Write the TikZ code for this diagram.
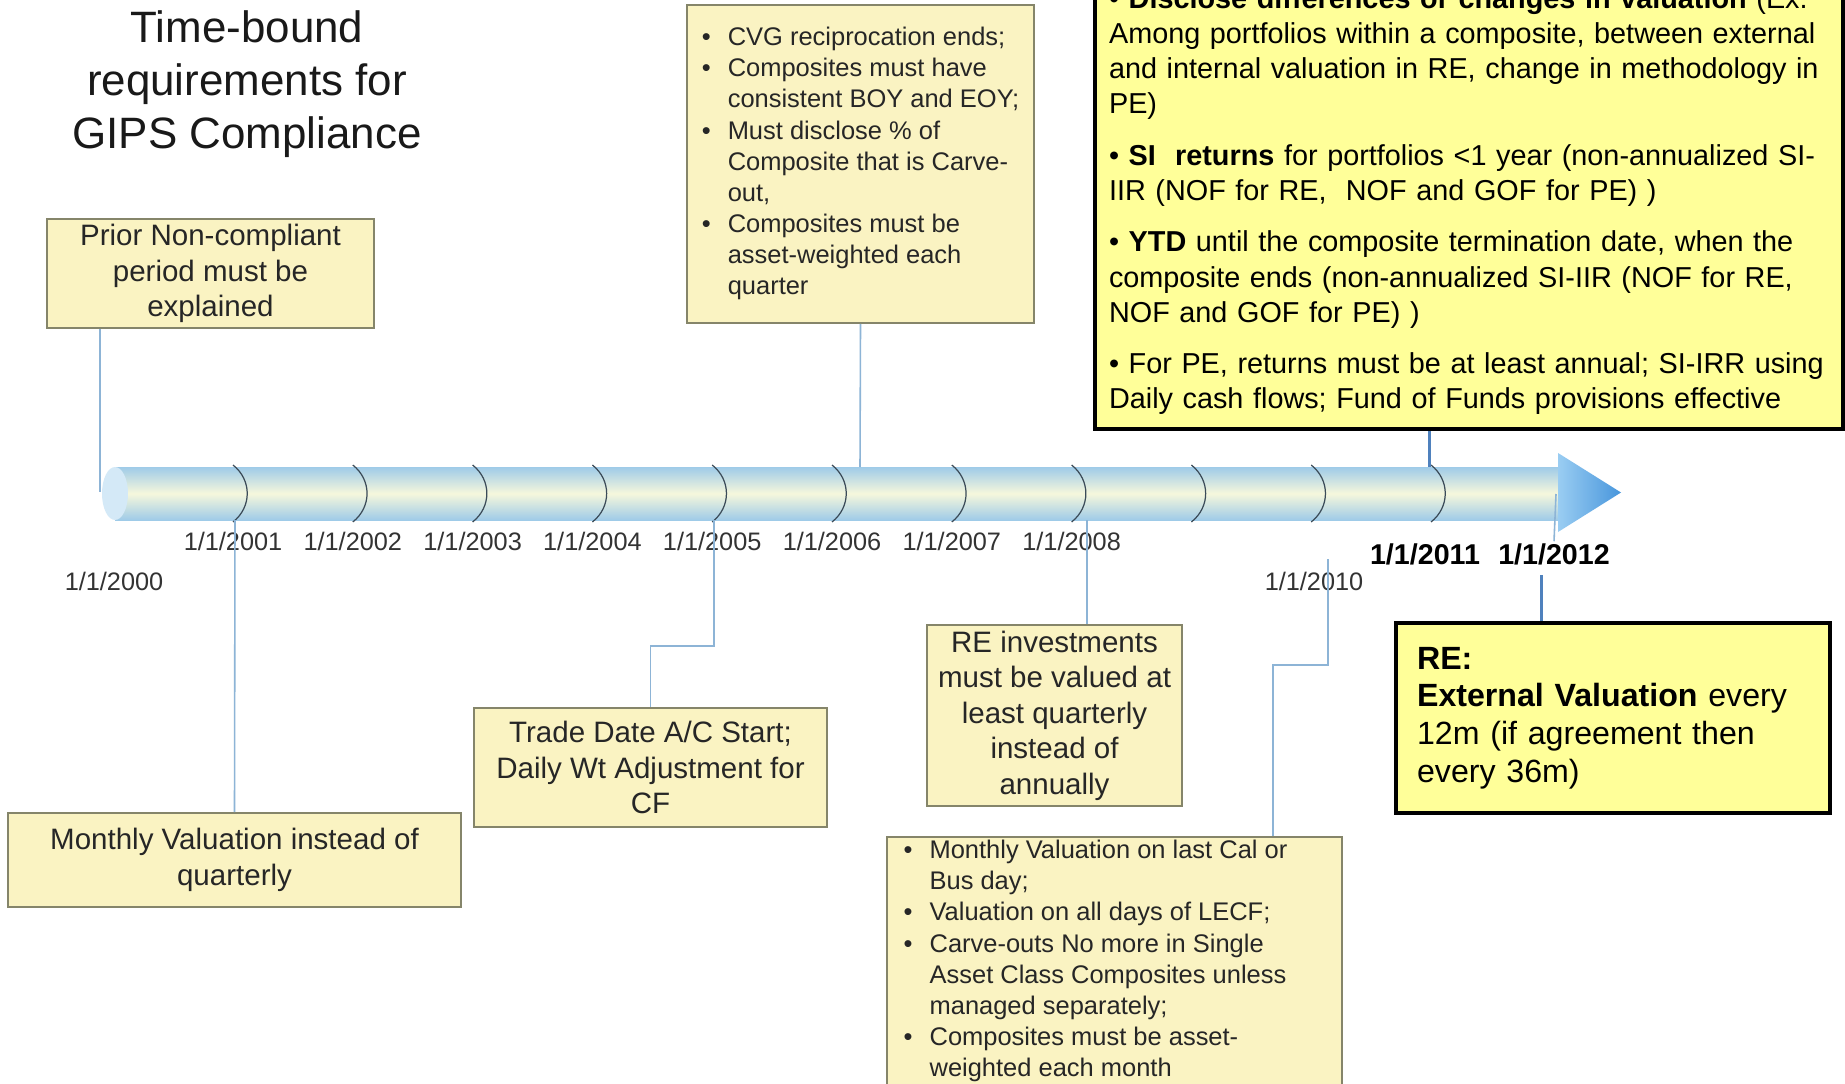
\documentclass[tikz,border=0pt]{standalone}
\usepackage{fontspec}
\setmainfont{Liberation Sans}
\usepackage{xcolor}
\usetikzlibrary{positioning, calc, arrows.meta}

\definecolor{palefill}{HTML}{FAF3C2}
\definecolor{paleedge}{HTML}{85856A}
\definecolor{notefill}{HTML}{FFFF99}
\definecolor{connblue}{HTML}{8DB4D6}
\definecolor{keyblue}{HTML}{4F81BD}
\definecolor{barblue}{HTML}{9FCBE8}
\definecolor{barpale}{HTML}{F6F7DC}
\definecolor{capblue}{HTML}{D4E9F7}
\definecolor{headlight}{HTML}{9ACDF2}
\definecolor{headdark}{HTML}{4896DC}
\definecolor{markgray}{HTML}{3B4B58}

\newcommand{\itembul}{\makebox[0.52cm][l]{\textbullet}}

\begin{document}
\begin{tikzpicture}[x=0.02cm, y=-0.02cm,
    palebox/.style={draw=paleedge, line width=1.1pt, fill=palefill, text=black!85,
      font=\fontsize{16.8}{20.2}\selectfont, align=center, inner sep=2pt},
    listbox/.style={draw=paleedge, line width=1.1pt, fill=palefill, text=black!85,
      font=\fontsize{14.5}{17.75}\selectfont, inner sep=0pt},
    notebox/.style={draw=black, line width=2.3pt, fill=notefill, align=left},
    datelbl/.style={text=black!80, font=\fontsize{14.4}{17}\selectfont, inner sep=1pt},
    keydate/.style={font=\fontsize{16.3}{19}\selectfont\bfseries, inner sep=1pt},
    yearmark/.style={draw=markgray, line width=0.7pt},
    conn/.style={draw=connblue, line width=0.9pt},
    keyconn/.style={draw=keyblue, line width=1.7pt}]
  \useasboundingbox (0,0) rectangle (1845,1084);
  \fill[white] (0,0) rectangle (1845,1084);

  % Timeline bar
  \shade[top color=barblue, bottom color=barblue, middle color=barpale] (115,467) rectangle (1560,520);
  \fill[capblue] (115,493.5) ellipse [x radius=0.26cm, y radius=0.53cm];
  \shade[left color=headlight, right color=headdark] (1558,453) -- (1621,492.5) -- (1558,532) -- cycle;
  \foreach \k in {0,...,10}
    \draw[yearmark] ({233+\k*119.8},465) .. controls ({252+\k*119.8},480) and ({252+\k*119.8},507) .. ({233+\k*119.8},522);

  \coordinate (t2000) at (100,492);
  \coordinate (b2001) at (235,520);
  \coordinate (b2005) at (714,520);
  \coordinate (t2006) at (860,467);
  \coordinate (b2008) at (1087,520);
  \coordinate (c2010) at (1328,559);
  \coordinate (t2011) at (1429,467);
  \coordinate (t2012) at (1556,494);
  \coordinate (c2012) at (1541,575);

  % Title
  \node[font=\fontsize{25}{30.3}\selectfont, align=center, text=black!90] (title) at (247,84)
    {Time-bound\\requirements for\\GIPS Compliance};

  % Dates
  \node[datelbl] (d2000) at (114,581) {1/1/2000};
  \foreach \yr [count=\k from 0] in {2001,...,2008}
    \node[datelbl] (d\yr) at ({233+\k*119.8},541) {1/1/\yr};
  \node[datelbl] (d2010) at (1314,581) {1/1/2010};
  \node[keydate] (d2011) at (1425,554) {1/1/2011};
  \node[keydate] (d2012) at (1554,554) {1/1/2012};

  % Requirements
  \node[palebox, minimum width=6.54cm, minimum height=2.18cm] (prior) at (210.5,273.5)
    {Prior Non-compliant\\period must be\\explained};
  \node[palebox, minimum width=9.06cm, minimum height=1.88cm] (monthly) at (234.5,860)
    {Monthly Valuation instead of\\quarterly};
  \node[palebox, minimum width=7.06cm, minimum height=2.38cm] (trade) at (650.5,767.5)
    {Trade Date A/C Start;\\Daily Wt Adjustment for\\CF};
  \node[palebox, minimum width=5.1cm, minimum height=3.62cm] (reinv) at (1054.5,715.5)
    {RE investments\\must be valued at\\least quarterly\\instead of\\annually};
  \node[listbox, minimum width=6.94cm, minimum height=6.36cm] (cvg) at (860.5,164) {%
    \begin{tabular}{@{}l@{}l@{}}
      \itembul & CVG reciprocation ends;\\
      \itembul & Composites must have\\
               & consistent BOY and EOY;\\
      \itembul & Must disclose \% of\\
               & Composite that is Carve-\\
               & out,\\
      \itembul & Composites must be\\
               & asset-weighted each\\
               & quarter
    \end{tabular}};
  \node[listbox, minimum width=9.1cm, minimum height=4.86cm] (lecf) at (1114.5,961.5) {%
    \begin{tabular}{@{}l@{}l@{\hspace{0.76cm}}}
      \itembul & Monthly Valuation on last Cal or\\
               & Bus day;\\
      \itembul & Valuation on all days of LECF;\\
      \itembul & Carve-outs No more in Single\\
               & Asset Class Composites unless\\
               & managed separately;\\
      \itembul & Composites must be asset-\\
               & weighted each month
    \end{tabular}};

  % 2011 / 2012 notes
  \node[notebox, anchor=south west, text width=14.4cm, inner xsep=0.28cm, inner ysep=0.28cm,
    font=\fontsize{16.4}{20}\selectfont] (disclose) at (1093,431)
    {\textbullet\ \textbf{Disclose differences or changes in valuation} (Ex.\\
     Among portfolios within a composite, between external\\
     and internal valuation in RE, change in methodology in\\
     PE)\\[0.33cm]
     \textbullet\ \textbf{SI\ \ returns} for portfolios <1 year (non-annualized SI-\\
     IIR (NOF for RE,\ \ NOF and GOF for PE) )\\[0.33cm]
     \textbullet\ \textbf{YTD} until the composite termination date, when the\\
     composite ends (non-annualized SI-IIR (NOF for RE,\\
     NOF and GOF for PE) )\\[0.33cm]
     \textbullet\ For PE, returns must be at least annual; SI-IRR using\\
     Daily cash flows; Fund of Funds provisions effective};
  \node[notebox, text width=7.84cm, inner xsep=0.42cm, minimum height=3.8cm,
    font=\fontsize{18.3}{21.5}\selectfont] (rebox) at (1613,718)
    {\textbf{RE:}\\\textbf{External Valuation} every\\12m (if agreement then\\every 36m)};

  % Connectors
  \draw[conn] (prior.south -| t2000) -- (t2000);
  \draw[conn] (b2001) -- (monthly.north);
  \draw[conn] (b2005) -- ++(0,126) -| (trade.north);
  \draw[conn] (cvg.south) -- (t2006);
  \draw[conn] (b2008) -- (b2008 |- reinv.north);
  \draw[conn] (c2010) -- ++(0,106) -- ++(-55,0) -- ($(lecf.north)+(158.5,0)$);
  \draw[conn] (t2012) -- (d2012.north);
  \draw[keyconn] (disclose.south -| t2011) -- (t2011);
  \draw[keyconn] (c2012) -- (c2012 |- rebox.north);
\end{tikzpicture}
\end{document}
